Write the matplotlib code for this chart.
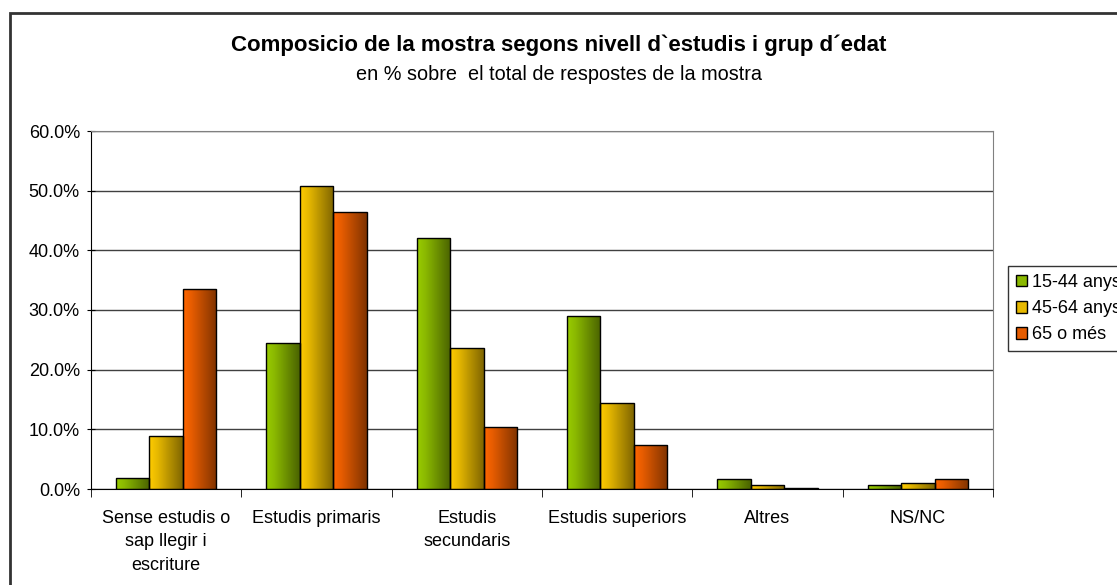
import numpy as np
import matplotlib.pyplot as plt
from matplotlib.colors import LinearSegmentedColormap
from matplotlib.patches import Rectangle

plt.rcParams['font.family'] = ['Liberation Sans', 'DejaVu Sans']

# categories and series (% of sample)
categories = ['Sense estudis o\nsap llegir i\nescriture', 'Estudis primaris', 'Estudis\nsecundaris',
              'Estudis superiors', 'Altres', 'NS/NC']
series_names = ['15-44 anys', '45-64 anys', '65 o més']
v_15_44 = [1.8, 24.5, 42.0, 29.0, 1.6, 0.6]
v_45_64 = [8.9, 50.8, 23.6, 14.4, 0.6, 1.0]
v_65 = [33.5, 46.4, 10.4, 7.3, 0.2, 1.6]
values = [v_15_44, v_45_64, v_65]

# gradient (light -> dark) for each series
grads = [['#99cc00', '#8ab800', '#4a6300'],
         ['#ffcc00', '#e6b800', '#806600'],
         ['#ff6600', '#e65c00', '#803300']]

fig = plt.figure(figsize=(11.17, 5.85), dpi=100)
# outer chart frame
fig.patches.append(Rectangle((10 / 1117, -0.1), 1.2, 1 - 13 / 585 + 0.1, transform=fig.transFigure,
                             fill=False, edgecolor='#333333', linewidth=2))
ax = fig.add_axes([91 / 1117, 1 - 489 / 585, (993 - 91) / 1117, (489 - 131) / 585])

x = np.arange(len(categories))
w = 1 / 4.5
grad = np.linspace(0, 1, 64).reshape(1, -1)
handles = []
for i, vals in enumerate(values):
    cmap = LinearSegmentedColormap.from_list('g%d' % i, [(0, grads[i][0]), (0.25, grads[i][1]), (1, grads[i][2])])
    bars = ax.bar(x + (i - 1) * w, vals, w, facecolor='none', edgecolor='black', linewidth=1.0, zorder=3)
    for b in bars:
        bx, by = b.get_x(), b.get_y()
        im = ax.imshow(grad, cmap=cmap, aspect='auto', extent=[bx, bx + b.get_width(), by, by + b.get_height()],
                       zorder=2, interpolation='bilinear')
        im.set_clip_path(b)
    handles.append(Rectangle((0, 0), 1, 1, facecolor=grads[i][1], edgecolor='black', linewidth=1.0))

ax.set_xlim(-0.5, len(categories) - 0.5)
ax.set_ylim(0, 60)
ax.set_yticks(np.arange(0, 61, 10))
ax.set_yticklabels(['%.1f%%' % t for t in np.arange(0, 61, 10)], fontsize=13)
ax.yaxis.grid(True, color='#404040', linewidth=1.0)
ax.set_axisbelow(True)
ax.tick_params(axis='y', direction='inout', length=6, color='black', pad=5)

ax.set_xticks(x)
ax.set_xticklabels(categories, fontsize=13, linespacing=1.5, va='top')
ax.tick_params(axis='x', length=0, pad=15)
ax.set_xticks(np.arange(-0.5, len(categories)), minor=True)
ax.tick_params(axis='x', which='minor', length=6, direction='out', color='black')

for s in ['top', 'right']:
    ax.spines[s].set_color('#808080')
ax.spines['left'].set_color('black')
ax.spines['bottom'].set_color('black')

fig.text(0.5, 1 - 45 / 585, "Composicio de la mostra segons nivell d`estudis i grup d´edat", ha='center', va='center',
         fontsize=16, fontweight='bold')
fig.text(0.5, 1 - 75 / 585, 'en % sobre  el total de respostes de la mostra', ha='center', va='center', fontsize=14.3)

leg = fig.legend(handles, series_names, loc='upper left', bbox_to_anchor=(1008 / 1117, 1 - 266 / 585),
                 fontsize=13, frameon=True, fancybox=False, edgecolor='black', handlelength=0.6, handleheight=0.6,
                 handletextpad=0.3, borderpad=0.45, labelspacing=0.5, borderaxespad=0)
leg.get_frame().set_linewidth(1.0)

fig.savefig('out.png', dpi=100)
